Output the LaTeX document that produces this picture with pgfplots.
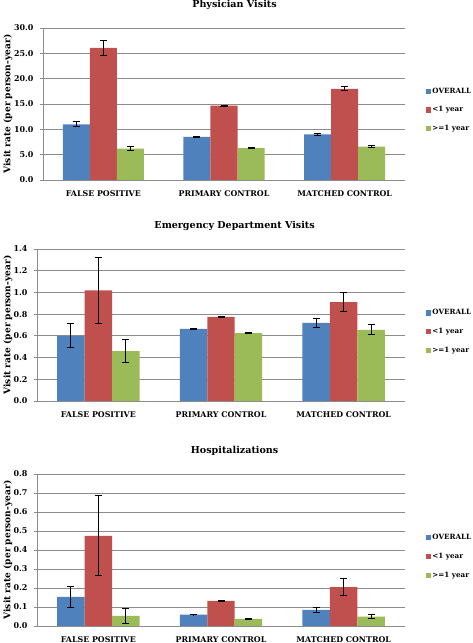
\documentclass[border=0pt]{standalone}
\usepackage{fontspec}
\setmainfont{DejaVu Serif}
\usepackage{pgfplots}
\pgfplotsset{compat=1.18}

\definecolor{cblue}{HTML}{4F81BD}
\definecolor{cred}{HTML}{C0504D}
\definecolor{cgreen}{HTML}{9BBB59}
\definecolor{gridc}{HTML}{8C8C8C}

\pgfplotsset{
  panel/.style={
    scale only axis, height=152bp,
    ybar, bar width=0.224,
    xmin=-0.5, xmax=2.5, ymin=0,
    axis x line*=bottom, axis y line*=left,
    axis line style={gridc, line width=0.9bp},
    ymajorgrids, grid style={gridc, line width=0.9bp},
    xtick={0,1,2},
    xticklabels={FALSE POSITIVE, PRIMARY CONTROL, MATCHED CONTROL},
    tick align=outside,
    tick style={gridc, line width=0.9bp},
    major tick length=3bp,
    xtick style={draw=none},
    extra x ticks={-0.5,0.5,1.5,2.5},
    extra x tick labels={},
    extra x tick style={xtick style={gridc, line width=0.9bp}, major tick length=4bp},
    /pgf/number format/assume math mode=true,
    /pgf/number format/.cd, fixed, fixed zerofill, precision=1, /pgfplots/.cd,
    yticklabel style={font=\bfseries\fontsize{8}{10}\selectfont, xshift=-3bp},
    xticklabel style={font=\bfseries\fontsize{7.9}{9}\selectfont, yshift=-4bp},
    ylabel={Visit rate (per person-year)},
    ylabel style={font=\bfseries\fontsize{9.1}{11}\selectfont, rotate=0, anchor=north},
    title style={font=\bfseries\fontsize{9.6}{12}\selectfont, anchor=center, yshift=17bp},
    legend style={draw=none, fill=none, anchor=west, xshift=21bp,
      font=\bfseries\fontsize{7.2}{9}\selectfont, row sep=10bp,
      inner sep=0pt, nodes={inner sep=1bp}},
    legend cell align=left,
    error bars/y dir=both, error bars/y explicit,
    error bars/error mark options={rotate=90, mark size=3.5bp, line width=1bp, black},
    error bars/error bar style={line width=1bp, black},
  },
  sq/.style={fill=#1, draw=none, legend image code/.code={\fill[#1] (0bp,-2.6bp) rectangle (5.2bp,2.6bp);}},
}

\begin{document}
\begin{tikzpicture}
% Panel 1: Physician Visits
\begin{axis}[panel, at={(43bp,463bp)}, anchor=south west, width=362bp,
  ymax=30, ytick={0,5,...,30},
  title={Physician Visits}, title style={at={(rel axis cs:0.529,1)}},
  ylabel style={at={(rel axis cs:-0.119,0.5)}},
  legend style={at={(rel axis cs:1,0.46)}}]
\addplot[sq=cblue, bar shift=-0.224] coordinates {(0,11.0) +- (0,0.5) (1,8.5) +- (0,0.08) (2,9.0) +- (0,0.15)};
\addplot[sq=cred, bar shift=0] coordinates {(0,26.1) +- (0,1.5) (1,14.7) +- (0,0.1) (2,18.0) +- (0,0.4)};
\addplot[sq=cgreen, bar shift=0.224] coordinates {(0,6.2) +- (0,0.4) (1,6.3) +- (0,0.05) (2,6.6) +- (0,0.2)};
\legend{OVERALL, <1 year, >=1 year}
\end{axis}
% Panel 2: Emergency Department Visits
\begin{axis}[panel, at={(37bp,242bp)}, anchor=south west, width=368bp,
  ymax=1.4, ytick={0,0.2,...,1.4},
  title={Emergency Department Visits}, title style={at={(rel axis cs:0.537,1)}},
  ylabel style={at={(rel axis cs:-0.1005,0.5)}},
  legend style={at={(rel axis cs:1,0.455)}}]
\addplot[sq=cblue, bar shift=-0.224] coordinates {(0,0.60) +- (0,0.11) (1,0.665) +- (0,0.003) (2,0.72) +- (0,0.04)};
\addplot[sq=cred, bar shift=0] coordinates {(0,1.02) +- (0,0.305) (1,0.775) +- (0,0.005) (2,0.91) +- (0,0.09)};
\addplot[sq=cgreen, bar shift=0.224] coordinates {(0,0.46) +- (0,0.11) (1,0.625) +- (0,0.003) (2,0.655) +- (0,0.045)};
\legend{OVERALL, <1 year, >=1 year}
\end{axis}
% Panel 3: Hospitalizations
\begin{axis}[panel, at={(37bp,17bp)}, anchor=south west, width=368bp,
  ymax=0.8, ytick={0,0.1,...,0.8},
  title={Hospitalizations}, title style={at={(rel axis cs:0.537,1)}},
  ylabel style={at={(rel axis cs:-0.1005,0.5)}},
  legend style={at={(rel axis cs:1,0.457)}}]
\addplot[sq=cblue, bar shift=-0.224] coordinates {(0,0.153) +- (0,0.057) (1,0.060) +- (0,0.002) (2,0.085) +- (0,0.013)};
\addplot[sq=cred, bar shift=0] coordinates {(0,0.475) +- (0,0.21) (1,0.132) +- (0,0.002) (2,0.205) +- (0,0.043)};
\addplot[sq=cgreen, bar shift=0.224] coordinates {(0,0.053) +- (0,0.039) (1,0.037) +- (0,0.002) (2,0.050) +- (0,0.011)};
\legend{OVERALL, <1 year, >=1 year}
\end{axis}
\pgfresetboundingbox
\path (0,0) rectangle (473bp,643bp);
\end{tikzpicture}
\end{document}
